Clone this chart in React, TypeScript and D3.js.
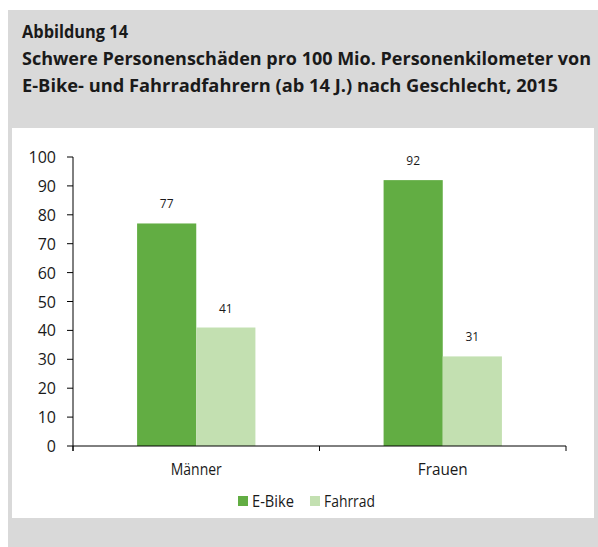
import * as d3 from "d3";

// chart data
const categories = ["Männer", "Frauen"];
const seriesNames = ["E-Bike", "Fahrrad"];
const eBikeValues = [77, 92];
const fahrradValues = [41, 31];
const yTicks = [0, 10, 20, 30, 40, 50, 60, 70, 80, 90, 100];
const titleLines = [
  "Abbildung 14",
  "Schwere Personenschäden pro 100 Mio. Personenkilometer von",
  "E-Bike- und Fahrradfahrern (ab 14 J.) nach Geschlecht, 2015",
];

const colors = ["#62ad43", "#c3e0b1"];
const font = "'Open Sans', 'Noto Sans', sans-serif";

const App = () => {
  const width = 598, height = 547;
  const margin = { top: 157, bottom: 101, left: 73, right: 32 };

  const x0 = d3.scaleBand<string>()
    .domain(categories)
    .range([margin.left, width - margin.right])
    .padding(0);
  const bw = x0.bandwidth();
  const x1 = d3.scaleBand<string>()
    .domain(seriesNames)
    .range([bw * 0.26, bw * 0.74])
    .padding(0);
  const y = d3.scaleLinear().domain([0, 100]).range([height - margin.bottom, margin.top]);

  const values = [eBikeValues, fahrradValues];
  const bars = categories.flatMap((c, i) =>
    seriesNames.map((s, j) => ({ cat: c, series: s, value: values[j][i], color: colors[j] }))
  );

  const titleWidths = [106, 569, 536];
  const xTickPos = [...categories.map(c => x0(c)!), x0.range()[1]];
  const catWidths = [51, 50];
  const legendWidths = [42, 51];

  return (
    <svg width={width} height={height} style={{ position: "absolute", left: 0, top: 0 }}>
      <rect x={8} y={10} width={590} height={537} fill="#d9d9d9" />
      <rect x={12} y={128} width={582} height={390} fill="#ffffff" />
      {titleLines.map((t, i) => (
        <text key={i} x={22} y={38 + i * 27} fontFamily={font} fontWeight="bold" fontSize={18} fill="#1a1a1a"
          textLength={titleWidths[i]} lengthAdjust="spacingAndGlyphs">
          {t}
        </text>
      ))}

      {/* bars */}
      {bars.map((d, i) => (
        <rect key={i} x={x0(d.cat)! + x1(d.series)!} y={y(d.value)} width={x1.bandwidth()}
          height={y(0) - y(d.value)} fill={d.color} />
      ))}
      {bars.map((d, i) => (
        <text key={"l" + i} x={x0(d.cat)! + x1(d.series)! + x1.bandwidth() / 2} y={y(d.value) - 15}
          textAnchor="middle" fontFamily={font} fontSize={12} fill="#1a1a1a">
          {d.value}
        </text>
      ))}

      {/* y axis */}
      <line x1={margin.left} x2={margin.left} y1={y(100)} y2={y(0) + 5} stroke="#000" />
      {yTicks.map(t => (
        <g key={t}>
          <line x1={margin.left - 6} x2={margin.left} y1={y(t)} y2={y(t)} stroke="#000" />
          <text x={margin.left - 17} y={y(t) + 6} textAnchor="end" fontFamily={font} fontSize={16} fill="#1a1a1a">
            {t}
          </text>
        </g>
      ))}

      {/* x axis */}
      <line x1={margin.left} x2={x0.range()[1]} y1={y(0)} y2={y(0)} stroke="#000" />
      {xTickPos.map((p, i) => (
        <line key={i} x1={p} x2={p} y1={y(0)} y2={y(0) + 5} stroke="#000" />
      ))}
      {categories.map((c, i) => (
        <text key={c} x={x0(c)! + bw / 2} y={475} textAnchor="middle" fontFamily={font} fontSize={16} fill="#1a1a1a"
          textLength={catWidths[i]} lengthAdjust="spacingAndGlyphs">
          {c}
        </text>
      ))}

      {/* legend */}
      {seriesNames.map((s, i) => {
        const lx = [238, 310][i];
        return (
          <g key={s}>
            <rect x={lx} y={496} width={10} height={10} fill={colors[i]} />
            <text x={lx + 14} y={507} fontFamily={font} fontSize={16} fill="#1a1a1a"
              textLength={legendWidths[i]} lengthAdjust="spacingAndGlyphs">{s}</text>
          </g>
        );
      })}
    </svg>
  );
};

export default App;
